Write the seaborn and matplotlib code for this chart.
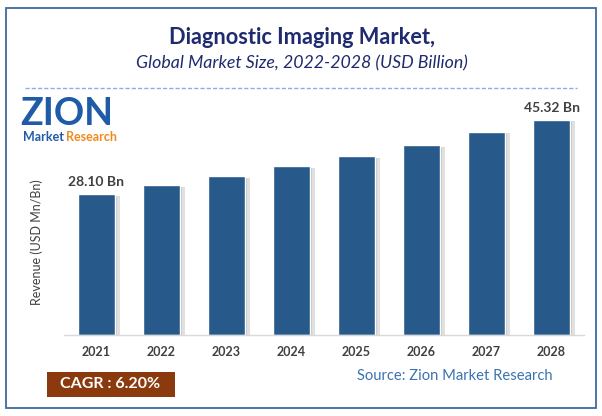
import matplotlib
matplotlib.use("Agg")
import matplotlib.pyplot as plt
import matplotlib.patheffects as pe
from matplotlib.patches import Rectangle
from matplotlib.lines import Line2D
import seaborn as sns
import pandas as pd

years = ["2021", "2022", "2023", "2024", "2025", "2026", "2027", "2028"]
revenue = [28.10, 29.9, 31.7, 33.7, 35.7, 37.9, 40.5, 42.9]
value_labels = ["28.10 Bn", "", "", "", "", "", "", "45.32 Bn"]
title = "Diagnostic Imaging Market,"
subtitle = "Global Market Size, 2022-2028 (USD Billion)"
ylabel = "Revenue (USD Mn/Bn)"
cagr_text = "CAGR : 6.20%"
source_text = "Source: Zion Market Research"

sns.set_theme(style="white")
plt.rcParams["font.family"] = ["Lato", "DejaVu Sans"]

W, H = 602, 416
fig = plt.figure(figsize=(W / 100, H / 100), dpi=100)
fig.patch.set_facecolor("white")

def fx(px):
    return px / W

def fy(py):
    return 1 - py / H

# frame
fig.patches.append(Rectangle((fx(6), fy(408)), fx(590), 400 / H, transform=fig.transFigure,
                             fill=False, edgecolor="#3F6A9E", linewidth=1.3))

# titles
fig.text(fx(302), fy(37), title, ha="center", va="center", fontsize=15.7,
         fontweight="bold", color="#1F2B6E")
fig.text(fx(302), fy(63), subtitle, ha="center", va="center", fontsize=12.8,
         style="italic", color="#1F2B6E")
fig.lines.append(Line2D([fx(25), fx(577)], [fy(88), fy(88)], transform=fig.transFigure,
                        color="#8AAEE0", linewidth=1, linestyle=(0, (3, 1.5))))

# logo (text approximation)
fig.text(fx(20), fy(114), "ZION", ha="left", va="center", fontsize=27,
         fontweight="bold", color="#1F5BA6")
fig.text(fx(23), fy(137), "Market", ha="left", va="center", fontsize=9,
         fontweight="bold", color="#1F5BA6")
fig.text(fx(66), fy(137), "Research", ha="left", va="center", fontsize=9,
         fontweight="bold", color="#F08A1C")

# axes
ax_left, ax_right, ax_top, ax_bottom = 64, 584, 100, 335
ax = fig.add_axes([fx(ax_left), fy(ax_bottom), fx(ax_right - ax_left), (ax_bottom - ax_top) / H])
df = pd.DataFrame({"year": years, "revenue": revenue})
sns.barplot(data=df, x="year", y="revenue", color="#275A8B", width=0.56, ax=ax,
            saturation=1)
for p in ax.patches:
    p.set_path_effects([pe.SimplePatchShadow(offset=(4, -1), shadow_rgbFace="#999999", alpha=0.3),
                        pe.SimplePatchShadow(offset=(2, -1), shadow_rgbFace="#888888", alpha=0.35),
                        pe.Normal()])
ax.set_xlim(-0.5, 7.5)
ax.set_ylim(0, (ax_bottom - ax_top) / 5.01)
ax.set_yticks([])
ax.set_xlabel("")
ax.set_ylabel("")
for s in ["top", "right", "left"]:
    ax.spines[s].set_visible(False)
ax.spines["bottom"].set_color("#D9D9D9")
ax.spines["bottom"].set_linewidth(1)
ax.tick_params(axis="x", length=0, pad=8)
for t in ax.get_xticklabels():
    t.set_fontsize(9)
    t.set_fontweight("bold")
    t.set_color("#404040")
for i, (v, lab) in enumerate(zip(revenue, value_labels)):
    if lab:
        ax.text(i, v + 1.3, lab, ha="center", va="bottom", fontsize=10,
                fontweight="bold", color="#404040")

fig.text(fx(37), fy(242), ylabel, ha="center", va="center", rotation=90,
         fontsize=9, color="#404040")

# CAGR box and source
fig.patches.append(Rectangle((fx(47), fy(397)), fx(128), 25 / H, transform=fig.transFigure,
                             facecolor="#8B3A0E", edgecolor="none"))
fig.text(fx(110), fy(384.5), cagr_text, ha="center", va="center", fontsize=11.5,
         fontweight="bold", color="white")
fig.text(fx(455), fy(376), source_text, ha="center", va="center", fontsize=10.6,
         color="#3A73B0")

fig.savefig("out.png", dpi=100)
